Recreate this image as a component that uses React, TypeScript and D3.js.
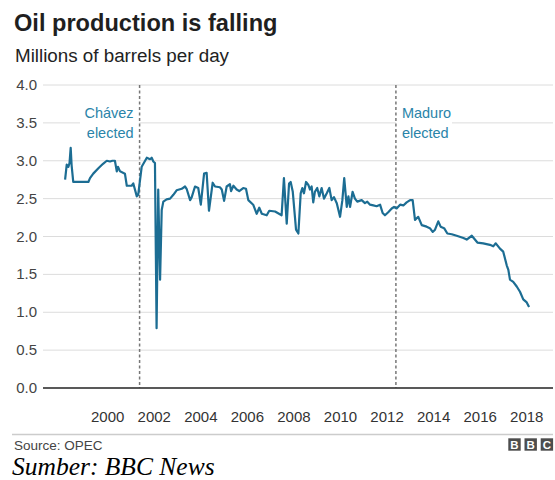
import React from "react";
import * as d3 from "d3";

const title = "Oil production is falling";
const subtitle = "Millions of barrels per day";
const source = "Source: OPEC";
const credit = "Sumber: BBC News";

const xTicks = [2000, 2002, 2004, 2006, 2008, 2010, 2012, 2014, 2016, 2018];
const yTicks = [0, 0.5, 1, 1.5, 2, 2.5, 3, 3.5, 4];

const eventYears = [2001.37, 2012.38];
const eventLines1 = ["Chávez", "Maduro"];
const eventLines2 = ["elected", "elected"];

const dates = [
  1998.17, 1998.24, 1998.31, 1998.36, 1998.41, 1998.45, 1998.52, 1998.7, 1998.9, 1999.17,
  1999.24, 1999.38, 1999.6, 1999.8, 1999.96, 2000.1, 2000.2, 2000.31, 2000.39, 2000.44,
  2000.53, 2000.74, 2000.82, 2001.03, 2001.1, 2001.25, 2001.31, 2001.46, 2001.68, 2001.82,
  2001.89, 2001.96, 2002.03, 2002.1, 2002.17, 2002.25, 2002.32, 2002.39, 2002.53, 2002.68,
  2002.82, 2002.96, 2003.18, 2003.32, 2003.39, 2003.54, 2003.61, 2003.75, 2003.89, 2004.0,
  2004.14, 2004.25, 2004.35, 2004.51, 2004.61, 2004.82, 2004.9, 2005.0, 2005.11, 2005.25,
  2005.3, 2005.4, 2005.54, 2005.65, 2005.82, 2005.94, 2006.04, 2006.25, 2006.4, 2006.51,
  2006.62, 2006.83, 2006.94, 2007.19, 2007.47, 2007.57, 2007.69, 2007.79, 2007.86, 2007.95,
  2008.09, 2008.19, 2008.29, 2008.36, 2008.43, 2008.52, 2008.62, 2008.69, 2008.76, 2008.83,
  2008.9, 2009.0, 2009.09, 2009.19, 2009.29, 2009.41, 2009.52, 2009.62, 2009.72, 2009.84,
  2009.98, 2010.08, 2010.16, 2010.27, 2010.34, 2010.41, 2010.52, 2010.62, 2010.72, 2010.91,
  2011.05, 2011.15, 2011.27, 2011.41, 2011.55, 2011.7, 2011.81, 2011.91, 2012.05, 2012.2,
  2012.3, 2012.41, 2012.56, 2012.7, 2012.84, 2012.99, 2013.1, 2013.2, 2013.34, 2013.49,
  2013.7, 2013.84, 2013.96, 2014.06, 2014.2, 2014.3, 2014.45, 2014.59, 2014.78, 2014.99,
  2015.28, 2015.42, 2015.64, 2015.88, 2016.13, 2016.42, 2016.56, 2016.67, 2016.85, 2016.99,
  2017.14, 2017.21, 2017.28, 2017.42, 2017.57, 2017.71, 2017.85, 2018.0, 2018.1,
];

const production = [
  2.75, 2.95, 2.92, 2.97, 3.17, 2.94, 2.72, 2.72, 2.72, 2.72,
  2.77, 2.83, 2.9, 2.96, 3.0, 2.99, 3.0, 3.0, 2.86, 2.92,
  2.86, 2.83, 2.67, 2.67, 2.7, 2.53, 2.55, 2.92, 3.04, 3.02,
  3.04, 2.99, 2.97, 0.79, 2.62, 1.43, 2.35, 2.46, 2.49, 2.5,
  2.55, 2.61, 2.63, 2.66, 2.63, 2.48, 2.52, 2.66, 2.64, 2.42,
  2.83, 2.84, 2.34, 2.71, 2.66, 2.65, 2.62, 2.47, 2.66, 2.69,
  2.6, 2.67, 2.62, 2.6, 2.64, 2.63, 2.48, 2.42, 2.3, 2.38,
  2.3, 2.28, 2.34, 2.33, 2.28, 2.77, 2.17, 2.7, 2.72, 2.59,
  2.09, 2.04, 2.57, 2.64, 2.57, 2.72, 2.68, 2.62, 2.66, 2.45,
  2.59, 2.64, 2.53, 2.64, 2.5, 2.57, 2.64, 2.48, 2.52, 2.44,
  2.26, 2.48, 2.77, 2.39, 2.53, 2.39, 2.59, 2.5, 2.46, 2.48,
  2.44, 2.46, 2.42, 2.41, 2.4, 2.42, 2.31, 2.28, 2.32, 2.37,
  2.39, 2.37, 2.42, 2.41, 2.45, 2.48, 2.48, 2.22, 2.26, 2.15,
  2.13, 2.11, 2.06, 2.09, 2.2, 2.13, 2.11, 2.04, 2.03, 2.01,
  1.98, 1.96, 2.01, 1.92, 1.91, 1.89, 1.87, 1.91, 1.84, 1.8,
  1.62, 1.56, 1.43, 1.4, 1.34, 1.27, 1.17, 1.13, 1.07,
];

const W = 555;
const H = 480;
const SANS = "'Liberation Sans', Arial, Helvetica, sans-serif";
const LINE = "#1c6d93";
const NOTE = "#2a84a9";

export default function App() {
  const x = d3.scaleLinear().domain([1998, 2018]).range([61.14, 526.74]);
  const y = d3.scaleLinear().domain([0, 4]).range([388, 85]);
  const plotLeft = 43;
  const plotRight = 553;

  const pts: [number, number][] = dates.map((d, i) => [d, production[i]]);
  const line = d3
    .line<[number, number]>()
    .x((d) => x(d[0]))
    .y((d) => y(d[1]));

  return (
    <svg
      width={W}
      height={H}
      style={{ position: "absolute", left: 0, top: 0, background: "#fff" }}
      fontFamily={SANS}
    >
      <text x={14} y={31} fontSize={23.6} fontWeight="bold" fill="#1f1f1f">
        {title}
      </text>
      <text x={15} y={61.5} fontSize={18.8} fill="#222">
        {subtitle}
      </text>

      {yTicks.map((t) => (
        <g key={t}>
          {t !== 0 && (
            <line x1={plotLeft} x2={plotRight} y1={y(t)} y2={y(t)} stroke="#dcdcdc" strokeWidth={1} />
          )}
          <text x={37} y={y(t) + 5} fontSize={15} fill="#444" textAnchor="end">
            {t.toFixed(1)}
          </text>
        </g>
      ))}

      {/* annotation knockouts */}
      <rect x={80} y={104} width={x(eventYears[0]) - 80} height={40} fill="#fff" />
      <rect x={x(eventYears[1])} y={104} width={452 - x(eventYears[1])} height={40} fill="#fff" />

      {eventYears.map((e) => (
        <line
          key={e}
          x1={x(e)}
          x2={x(e)}
          y1={y(4)}
          y2={y(0)}
          stroke="#777"
          strokeWidth={1.5}
          strokeDasharray="3,2.5"
        />
      ))}

      <text x={x(eventYears[0]) - 6} y={118} fontSize={14.5} fill={NOTE} textAnchor="end">
        {eventLines1[0]}
      </text>
      <text x={x(eventYears[0]) - 6} y={138} fontSize={14.5} fill={NOTE} textAnchor="end">
        {eventLines2[0]}
      </text>
      <text x={x(eventYears[1]) + 6} y={118} fontSize={14.5} fill={NOTE}>
        {eventLines1[1]}
      </text>
      <text x={x(eventYears[1]) + 6} y={138} fontSize={14.5} fill={NOTE}>
        {eventLines2[1]}
      </text>

      <line x1={plotLeft} x2={plotRight} y1={y(0)} y2={y(0)} stroke="#222" strokeWidth={1.6} />

      <path d={line(pts) || ""} fill="none" stroke={LINE} strokeWidth={2.2} strokeLinejoin="round" />

      {xTicks.map((t) => (
        <text key={t} x={x(t)} y={421.5} fontSize={15} fill="#333" textAnchor="middle">
          {t}
        </text>
      ))}

      <line x1={12} x2={553} y1={434.5} y2={434.5} stroke="#cccccc" strokeWidth={1.5} />
      <text x={14} y={449.5} fontSize={13.5} fill="#444">
        {source}
      </text>

      {["B", "B", "C"].map((ch, i) => (
        <g key={i}>
          <rect x={508.3 + i * 16.2} y={438.3} width={12.4} height={12.4} fill="#4d4d4d" />
          <text
            x={508.3 + i * 16.2 + 6.2}
            y={448.6}
            fontSize={11.5}
            fontWeight="bold"
            fill="#fff"
            textAnchor="middle"
          >
            {ch}
          </text>
        </g>
      ))}

      <text
        x={12}
        y={474.5}
        fontSize={25.5}
        fontStyle="italic"
        fontFamily="'Liberation Serif', 'Times New Roman', serif"
        fill="#000"
      >
        {credit}
      </text>
    </svg>
  );
}
